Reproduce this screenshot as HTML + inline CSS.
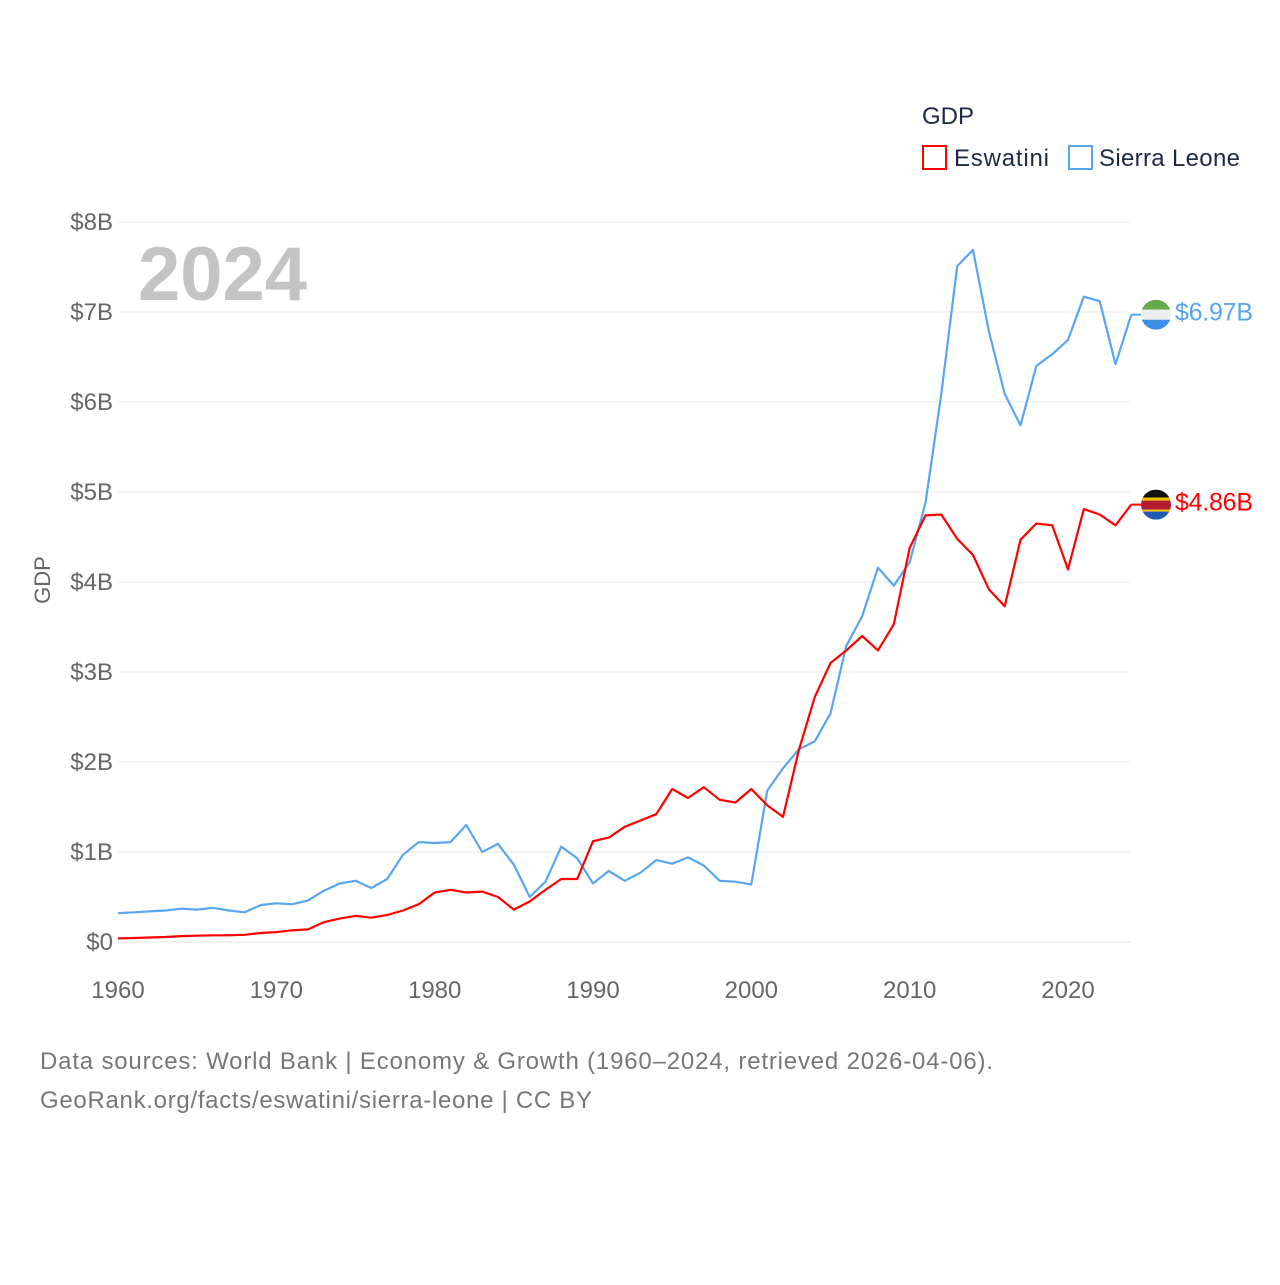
<!DOCTYPE html>
<html><head><meta charset="utf-8">
<style>
html,body{margin:0;padding:0;background:#fff;}
body{width:1280px;height:1280px;overflow:hidden;font-family:"Liberation Sans",sans-serif;}
svg text{font-family:"Liberation Sans",sans-serif;}
</style></head>
<body>
<svg id="chart" width="1280" height="1280" viewBox="0 0 1280 1280" xmlns="http://www.w3.org/2000/svg">
  <g id="grid"></g>
  <g id="yticks"></g>
  <g id="xticks"></g>
  <text x="50" y="580" font-size="22" fill="#666" text-anchor="middle" transform="rotate(-90 50 580)">GDP</text>
  <text x="138" y="300" font-size="76" font-weight="bold" fill="#c4c4c4">2024</text>
  <g id="series"></g>
  <g>
    <text x="922" y="124" font-size="24" fill="#1d2a44">GDP</text>
    <g>
      <rect x="923" y="146" width="23" height="23" fill="none" stroke="#ff0000" stroke-width="2"/>
      <text x="954" y="166" font-size="24" fill="#1d2a44" textLength="95">Eswatini</text>
    </g>
    <g>
      <rect x="1069" y="146" width="23" height="23" fill="none" stroke="#5aa6ee" stroke-width="2"/>
      <text x="1099" y="166" font-size="24" fill="#1d2a44" textLength="141">Sierra Leone</text>
    </g>
  </g>
  <text x="40" y="1069" font-size="24" fill="#777" textLength="953">Data sources: World Bank | Economy &amp; Growth (1960–2024, retrieved 2026-04-06).</text>
  <text x="40" y="1108" font-size="24" fill="#777" textLength="552">GeoRank.org/facts/eswatini/sierra-leone | CC BY</text>
</svg>
<script>
const years = [];
for (let y = 1960; y <= 2024; y++) years.push(y);
const eswatini = [0.04,0.045,0.05,0.055,0.065,0.07,0.075,0.075,0.08,0.1,0.11,0.13,0.14,0.22,0.26,0.29,0.27,0.3,0.35,0.42,0.55,0.58,0.55,0.56,0.5,0.36,0.45,0.58,0.7,0.7,1.12,1.16,1.28,1.35,1.42,1.7,1.6,1.72,1.58,1.55,1.7,1.52,1.39,2.13,2.72,3.1,3.24,3.4,3.24,3.53,4.38,4.74,4.75,4.48,4.3,3.92,3.73,4.47,4.65,4.63,4.14,4.81,4.75,4.63,4.86];
const sierraLeone = [0.32,0.33,0.34,0.35,0.37,0.36,0.38,0.35,0.33,0.41,0.43,0.42,0.46,0.57,0.65,0.68,0.6,0.7,0.97,1.11,1.1,1.11,1.3,1.0,1.09,0.86,0.5,0.67,1.06,0.93,0.65,0.79,0.68,0.77,0.91,0.87,0.94,0.85,0.68,0.67,0.64,1.68,1.93,2.14,2.23,2.54,3.29,3.62,4.16,3.96,4.22,4.88,6.09,7.51,7.69,6.79,6.09,5.74,6.4,6.53,6.69,7.17,7.12,6.42,6.97];
const yTickValues = [0,1,2,3,4,5,6,7,8];
const yTickLabels = ["$0","$1B","$2B","$3B","$4B","$5B","$6B","$7B","$8B"];
const xTickValues = [1960,1970,1980,1990,2000,2010,2020];
const endLabels = ["$4.86B","$6.97B"];

const NS = "http://www.w3.org/2000/svg";
const xScale = yr => 118 + (yr - 1960) * (950 / 60);
const yScale = v => 942 - v * 90;
function mk(tag, attrs, parent) {
  const e = document.createElementNS(NS, tag);
  for (const k in attrs) e.setAttribute(k, attrs[k]);
  parent.appendChild(e);
  return e;
}
const grid = document.getElementById('grid');
const yt = document.getElementById('yticks');
yTickValues.forEach((v, i) => {
  const l = mk('line', {x1: 118, x2: 1130, y1: yScale(v), y2: yScale(v), stroke: v === 0 ? '#e0e0e0' : '#e8e8e8', 'stroke-width': 1}, grid);
  
  
  const t = mk('text', {x: 113, y: yScale(v) + 8, 'font-size': 24, fill: '#666', 'text-anchor': 'end'}, yt);
  t.textContent = yTickLabels[i];
  
  
});
const xt = document.getElementById('xticks');
xTickValues.forEach(v => {
  const t = mk('text', {x: xScale(v), y: 998, 'font-size': 24, fill: '#666', 'text-anchor': 'middle'}, xt);
  t.textContent = v;
  
  
});
const sg = document.getElementById('series');
function drawSeries(vals, color, name) {
  const d = vals.map((v, i) => (i ? 'L' : 'M') + xScale(years[i]).toFixed(1) + ' ' + yScale(v).toFixed(1)).join(' ');
  const p = mk('path', {d: d, fill: 'none', stroke: color, 'stroke-width': 2.2, 'stroke-linejoin': 'round'}, sg);
  
  
}
drawSeries(sierraLeone, '#5aa6ee', 'sierra-leone-line');
drawSeries(eswatini, '#ff0000', 'eswatini-line');

function endMarker(val, color, label, flag, name) {
  const x0 = xScale(2024), y0 = yScale(val), cx = 1156;
  const g = mk('g', {}, sg);
  
  
  mk('line', {x1: x0, x2: cx - 14, y1: y0, y2: y0, stroke: color, 'stroke-width': 2}, g);
  const defsId = name + '-clip';
  const cp = mk('clipPath', {id: defsId}, g);
  mk('circle', {cx: cx, cy: y0, r: 15}, cp);
  const fg = mk('g', {'clip-path': 'url(#' + defsId + ')'}, g);
  flag.forEach(s => mk('rect', {x: cx - 15, y: y0 - 15 + s[0], width: 30, height: s[1], fill: s[2]}, fg));
  const t = mk('text', {x: 1175, y: y0 + 6, 'font-size': 25, fill: color, textLength: 78}, g);
  t.textContent = label;
}
endMarker(sierraLeone[sierraLeone.length - 1], '#5aa6ee', endLabels[1], [[0,10,'#6aa84f'],[10,10,'#eeeeee'],[20,10,'#3d8fe8']], 'sierra-leone-end-label');
endMarker(eswatini[eswatini.length - 1], '#ff0000', endLabels[0], [[0,8,'#111'],[8,3,'#f2c000'],[11,9,'#b01c2e'],[20,2,'#f2c000'],[22,8,'#1f5bb0']], 'eswatini-end-label');
</script>
</body></html>
